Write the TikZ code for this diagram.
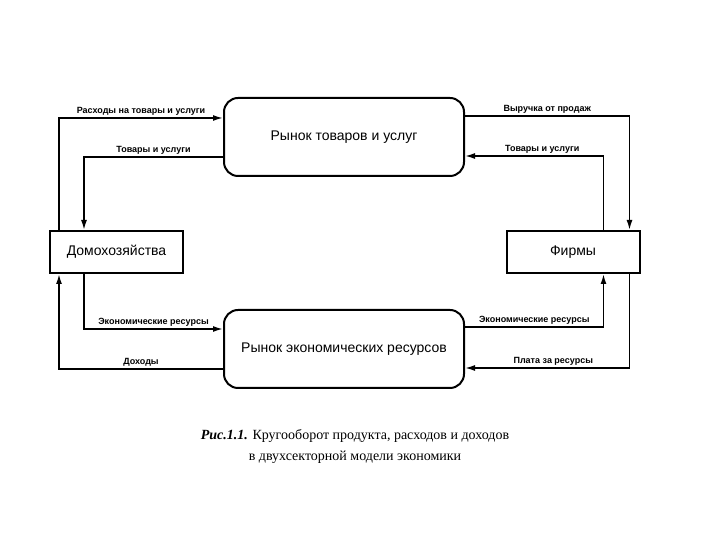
\documentclass[tikz,border=0pt]{standalone}
\usepackage{fontspec}
\setmainfont{Liberation Serif}
\setsansfont{Liberation Sans}
\usetikzlibrary{arrows.meta}
\tikzstyle{market} = [rectangle, rounded corners=14pt, minimum width=240pt, minimum height=78pt, text centered, draw=black, line width=2pt, font=\sffamily\fontsize{14}{16}\selectfont]
\tikzstyle{sector} = [rectangle, minimum width=133pt, minimum height=42pt, text centered, draw=black, line width=2pt, font=\sffamily\fontsize{14}{16}\selectfont]
\tikzstyle{arrow} = [line width=1.6pt, -{Latex[length=10pt,width=6pt]}]
\tikzstyle{flow} = [above, inner sep=2pt, font=\sffamily\bfseries\fontsize{9}{10}\selectfont]

\begin{document}
\begin{tikzpicture}[x=1pt, y=1pt]
\useasboundingbox (0,0) rectangle (720,540);

\node (goods) [market] at (344,403) {Рынок товаров и услуг};
\node (res) [market] at (344,191) {Рынок экономических ресурсов};
\node (hh) [sector] at (116.5,288) {Домохозяйства};
\node (firms) [sector] at (573,288) {Фирмы};

\draw [arrow] ([xshift=10pt]hh.north west) |- node[flow, pos=0.75] {Расходы на товары и услуги} ([yshift=19pt]goods.west);
\draw [arrow] ([yshift=-20pt]goods.west) -| node[flow, pos=0.25] {Товары и услуги} ([xshift=35pt]hh.north west);
\draw [arrow] ([yshift=21pt]goods.east) -| node[flow, pos=0.25] {Выручка от продаж} ([xshift=-11pt]firms.north east);
\draw [arrow] ([xshift=-37pt]firms.north east) |- node[flow, pos=0.75, xshift=8pt] {Товары и услуги} ([yshift=-19pt]goods.east);
\draw [arrow] ([xshift=35pt]hh.south west) |- node[flow, pos=0.75] {Экономические ресурсы} ([yshift=20pt]res.west);
\draw [arrow] ([yshift=-20pt]res.west) -| node[flow, pos=0.25] {Доходы} ([xshift=10pt]hh.south west);
\draw [arrow] ([yshift=22pt]res.east) -| node[flow, pos=0.25] {Экономические ресурсы} ([xshift=-37pt]firms.south east);
\draw [arrow] ([xshift=-11pt]firms.south east) |- node[flow, pos=0.75, xshift=6pt] {Плата за ресурсы} ([yshift=-19pt]res.east);

\node (caption) [align=center, font=\fontsize{14}{21}\selectfont] at (355,93) {\textbf{\textit{Рис.1.1.}} Кругооборот продукта, расходов и доходов\\в двухсекторной модели экономики};

\end{tikzpicture}
\end{document}
